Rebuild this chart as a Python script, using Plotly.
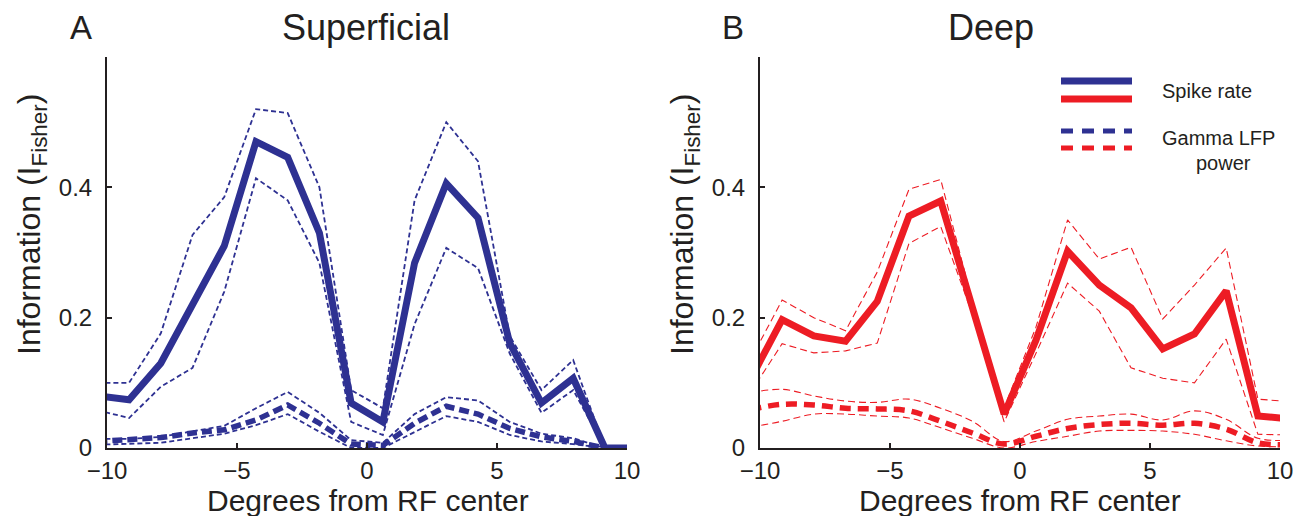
import plotly.graph_objects as go

# ---------------- data ----------------
x_pos = [-10.37, -9.15, -7.93, -6.71, -5.49, -4.27, -3.05, -1.83, -0.61,
         0.61, 1.83, 3.05, 4.27, 5.49, 6.71, 7.93, 9.15, 10.37]

# Panel A: Superficial (blue)
sup_spike = [0.080, 0.074, 0.130, 0.220, 0.310, 0.470, 0.446, 0.330, 0.069,
             0.040, 0.284, 0.406, 0.353, 0.161, 0.069, 0.107, 0.000, 0.000]
sup_spike_hi = [0.100, 0.100, 0.176, 0.327, 0.385, 0.520, 0.514, 0.400, 0.089,
                0.061, 0.380, 0.500, 0.440, 0.172, 0.089, 0.135, 0.000, 0.000]
sup_spike_lo = [0.058, 0.046, 0.094, 0.123, 0.240, 0.414, 0.380, 0.284, 0.040,
                0.020, 0.190, 0.307, 0.276, 0.145, 0.054, 0.089, 0.000, 0.000]
sup_gamma = [0.010, 0.012, 0.016, 0.023, 0.028, 0.043, 0.066, 0.038, 0.006,
             0.004, 0.038, 0.064, 0.052, 0.030, 0.017, 0.010, 0.000, 0.000]
sup_gamma_hi = [0.014, 0.014, 0.017, 0.026, 0.034, 0.061, 0.086, 0.054, 0.012,
                0.008, 0.052, 0.078, 0.073, 0.040, 0.022, 0.015, 0.000, 0.000]
sup_gamma_lo = [0.005, 0.006, 0.008, 0.015, 0.022, 0.035, 0.052, 0.025, 0.000,
                0.000, 0.025, 0.049, 0.040, 0.020, 0.010, 0.006, 0.000, 0.000]

# Panel B: Deep (red)
deep_spike = [0.105, 0.197, 0.172, 0.164, 0.225, 0.356, 0.379, 0.215, 0.052,
              0.165, 0.302, 0.250, 0.215, 0.152, 0.175, 0.241, 0.049, 0.045]
deep_spike_hi = [0.135, 0.227, 0.200, 0.180, 0.270, 0.397, 0.412, 0.225, 0.062,
                 0.185, 0.350, 0.290, 0.308, 0.198, 0.250, 0.307, 0.075, 0.071]
deep_spike_lo = [0.085, 0.160, 0.146, 0.149, 0.161, 0.314, 0.340, 0.205, 0.040,
                 0.145, 0.253, 0.210, 0.123, 0.107, 0.100, 0.167, 0.021, 0.020]
deep_gamma = [0.059, 0.067, 0.066, 0.061, 0.060, 0.057, 0.041, 0.023, 0.006,
              0.018, 0.030, 0.036, 0.038, 0.035, 0.038, 0.029, 0.008, 0.005]
deep_gamma_hi = [0.085, 0.090, 0.080, 0.072, 0.070, 0.075, 0.061, 0.041, 0.010,
                 0.026, 0.044, 0.049, 0.052, 0.043, 0.057, 0.044, 0.015, 0.012]
deep_gamma_lo = [0.032, 0.041, 0.052, 0.052, 0.049, 0.046, 0.031, 0.015, 0.000,
                 0.010, 0.018, 0.026, 0.027, 0.026, 0.021, 0.011, 0.003, 0.002]

x_ticks = [-10, -5, 0, 5, 10]
x_tick_text = ["\u221210", "\u22125", "0", "5", "10"]
y_ticks = [0, 0.2, 0.4]
y_tick_text = ["0", "0.2", "0.4"]

panel_titles = ["Superficial", "Deep"]
panel_letters = ["A", "B"]
x_label = "Degrees from RF center"
y_label = "Information (I<sub>Fisher</sub>)"
legend_labels = ["Spike rate", "Gamma LFP", "power"]

BLUE = "#2e3192"
RED = "#ed1c24"
TXT = "#231f20"
FONT = "Liberation Sans, Arial, Helvetica, sans-serif"

fig = go.Figure()


def add_panel(xa, ya, color, spike, hi, lo, g, ghi, glo, thin_w, thin_dash, gdash, gshape):
    kw = dict(xaxis=xa, yaxis=ya, mode="lines", showlegend=False, hoverinfo="skip")
    for s in (hi, lo):
        fig.add_trace(go.Scatter(x=x_pos, y=s, line=dict(color=color, width=thin_w, dash=thin_dash), **kw))
    for s in (ghi, glo):
        fig.add_trace(go.Scatter(x=x_pos, y=s, line=dict(color=color, width=thin_w, dash=thin_dash, shape=gshape), **kw))
    fig.add_trace(go.Scatter(x=x_pos, y=g, line=dict(color=color, width=5.5, dash=gdash, shape=gshape), **kw))
    fig.add_trace(go.Scatter(x=x_pos, y=spike, line=dict(color=color, width=7), **kw))


add_panel("x", "y", BLUE, sup_spike, sup_spike_hi, sup_spike_lo,
          sup_gamma, sup_gamma_hi, sup_gamma_lo, 1.8, "5px,3px", "10px,5px", "linear")
add_panel("x2", "y2", RED, deep_spike, deep_spike_hi, deep_spike_lo,
          deep_gamma, deep_gamma_hi, deep_gamma_lo, 1.1, "7px,4px", "11px,7px", "spline")

# page body has an 8px margin: figure is 1290x508 placed at (8, 8)
OFF = 8
W, H = 1306 - 2 * OFF, 524 - 2 * OFF


def px(xp, yp):
    return (xp - OFF) / W, 1 - (yp - OFF) / H


y_dom = [px(0, 448)[1], px(0, 57)[1]]
axis_common = dict(
    showline=True, linecolor="#231f20", linewidth=2, mirror=False,
    ticks="inside", ticklen=5, tickwidth=2, tickcolor="#231f20",
    showgrid=False, zeroline=False, automargin=False,
    tickfont=dict(family=FONT, size=24, color=TXT),
)
fig.update_layout(
    width=W, height=H,
    margin=dict(l=0, r=0, t=0, b=0, autoexpand=False),
    paper_bgcolor="white", plot_bgcolor="white",
    xaxis=dict(domain=[px(107, 0)[0], px(627, 0)[0]], range=[-10, 10], tickvals=x_ticks,
               ticktext=x_tick_text, anchor="y", ticklabelstandoff=0, **axis_common),
    yaxis=dict(domain=y_dom, range=[0, 0.6], tickvals=y_ticks, ticktext=y_tick_text,
               anchor="x", ticklabelstandoff=8, **axis_common),
    xaxis2=dict(domain=[px(760, 0)[0], px(1280, 0)[0]], range=[-10, 10], tickvals=x_ticks,
                ticktext=x_tick_text, anchor="y2", ticklabelstandoff=0, **axis_common),
    yaxis2=dict(domain=y_dom, range=[0, 0.6], tickvals=y_ticks, ticktext=y_tick_text,
                anchor="x2", ticklabelstandoff=8, **axis_common),
)

annos = []
for letter, title, lx, tx in zip(panel_letters, panel_titles, [81, 733], [366, 991]):
    ax_, ay_ = px(lx, 27)
    annos.append(dict(x=ax_, y=ay_, text=letter, font=dict(family=FONT, size=33, color=TXT)))
    ax_, ay_ = px(tx, 27)
    annos.append(dict(x=ax_, y=ay_, text=title, font=dict(family=FONT, size=36, color=TXT)))
for cx in [368, 1020]:
    ax_, ay_ = px(cx, 500)
    annos.append(dict(x=ax_, y=ay_, text=x_label, font=dict(family=FONT, size=30, color=TXT)))
for cx in [31, 684]:
    ax_, ay_ = px(cx, 225)
    annos.append(dict(x=ax_, y=ay_, text=y_label, textangle=-90, font=dict(family=FONT, size=32, color=TXT)))

# legend text
for txt, lx, ly, anc in [(legend_labels[0], 1160, 91, "left"),
                         (legend_labels[1], 1160, 138, "left"),
                         (legend_labels[2], 1223, 163, "center")]:
    ax_, ay_ = px(lx, ly)
    annos.append(dict(x=ax_, y=ay_, text=txt, xanchor=anc, font=dict(family=FONT, size=20, color=TXT)))
for a in annos:
    a.setdefault("xref", "paper")
    a.setdefault("yref", "paper")
    a.setdefault("showarrow", False)
    a.setdefault("xanchor", "center")
    a.setdefault("yanchor", "middle")
fig.update_layout(annotations=annos)

# legend sample lines
shapes = []
for yp, col, solid in [(81, BLUE, True), (99, RED, True), (131, BLUE, False), (148, RED, False)]:
    x0, y0 = px(1061, yp)
    x1, _ = px(1132, yp)
    shapes.append(dict(type="line", xref="paper", yref="paper", x0=x0, x1=x1, y0=y0, y1=y0,
                       line=dict(color=col, width=7 if solid else 5,
                                 dash="solid" if solid else "12px,9px")))
fig.update_layout(shapes=shapes)

fig.write_html("out.html")
